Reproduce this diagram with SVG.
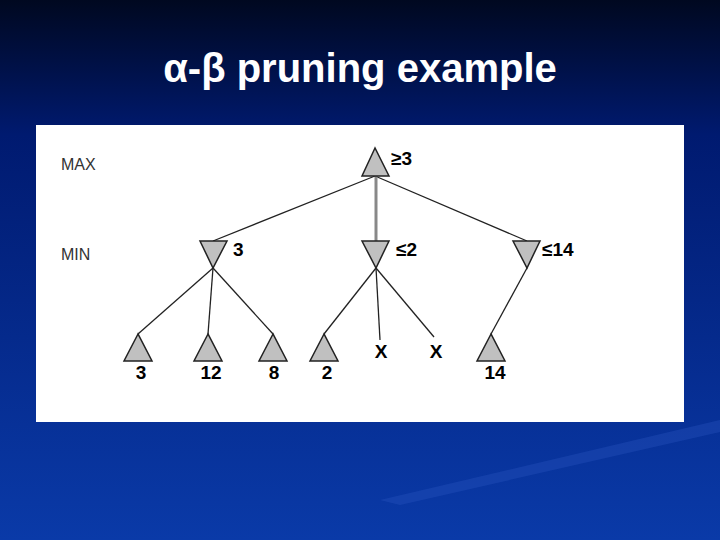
<svg xmlns="http://www.w3.org/2000/svg" width="720" height="540" viewBox="0 0 720 540">
<defs>
<linearGradient id="bg" x1="0" y1="0" x2="0" y2="1">
<stop offset="0" stop-color="#000820"/>
<stop offset="0.25" stop-color="#001a70"/>
<stop offset="1" stop-color="#0a3aa8"/>
</linearGradient>
<style>
.t{font-family:"Liberation Sans",Arial,sans-serif;font-weight:bold;fill:#000;font-size:19px}
.lv{font-family:"Liberation Sans",Arial,sans-serif;fill:#333;font-size:16px}
.n{fill:#c0c0c0;stroke:#222;stroke-width:1.5}
.e{stroke:#222;stroke-width:1.3;fill:none}
</style>
</defs>
<rect width="720" height="540" fill="url(#bg)"/>
<path d="M380 500 L720 420 L720 432 L400 505 Z" fill="#2a55c0" opacity="0.35"/>
<text x="360" y="82" text-anchor="middle" font-family="Liberation Sans,Arial,sans-serif" font-weight="bold" font-size="40" fill="#fff">α-β pruning example</text>
<rect x="36" y="125" width="648" height="297" fill="#fff"/>
<text class="lv" x="61" y="170">MAX</text>
<text class="lv" x="61" y="260">MIN</text>
<g id="connectors">
<line class="e" x1="375" y1="176" x2="213" y2="241"/>
<line class="e" x1="375" y1="176" x2="527" y2="241"/>
<line x1="376" y1="176" x2="376" y2="241" stroke="#888" stroke-width="3"/>
<line class="e" x1="213" y1="268" x2="138" y2="334"/>
<line class="e" x1="213" y1="268" x2="208" y2="334"/>
<line class="e" x1="213" y1="268" x2="273" y2="334"/>
<line class="e" x1="376" y1="268" x2="324" y2="334"/>
<line class="e" x1="376" y1="268" x2="380" y2="340"/>
<line class="e" x1="376" y1="268" x2="434" y2="337"/>
<line class="e" x1="527" y1="268" x2="491" y2="334"/>
</g>
<g id="root"><polygon class="n" points="375,148 362,176 389,176"/><text class="t" x="391" y="165">≥3</text></g>
<g id="min1"><polygon class="n" points="200,241 227,241 213,268"/><text class="t" x="233" y="256">3</text></g>
<g id="min2"><polygon class="n" points="362,241 389,241 376,268"/><text class="t" x="396" y="256">≤2</text></g>
<g id="min3"><polygon class="n" points="513,241 540,241 527,268"/><text class="t" x="542" y="256">≤14</text></g>
<g id="l1"><polygon class="n" points="138,334 124,361 152,361"/><text class="t" x="141" y="379" text-anchor="middle">3</text></g>
<g id="l2"><polygon class="n" points="208,334 194,361 222,361"/><text class="t" x="211" y="379" text-anchor="middle">12</text></g>
<g id="l3"><polygon class="n" points="273,334 259,361 287,361"/><text class="t" x="274" y="379" text-anchor="middle">8</text></g>
<g id="l4"><polygon class="n" points="324,334 310,361 338,361"/><text class="t" x="327" y="379" text-anchor="middle">2</text></g>
<g id="x1"><text class="t" x="381" y="358" text-anchor="middle">X</text></g>
<g id="x2"><text class="t" x="436" y="358" text-anchor="middle">X</text></g>
<g id="l5"><polygon class="n" points="491,334 477,361 505,361"/><text class="t" x="495" y="379" text-anchor="middle">14</text></g>
</svg>
